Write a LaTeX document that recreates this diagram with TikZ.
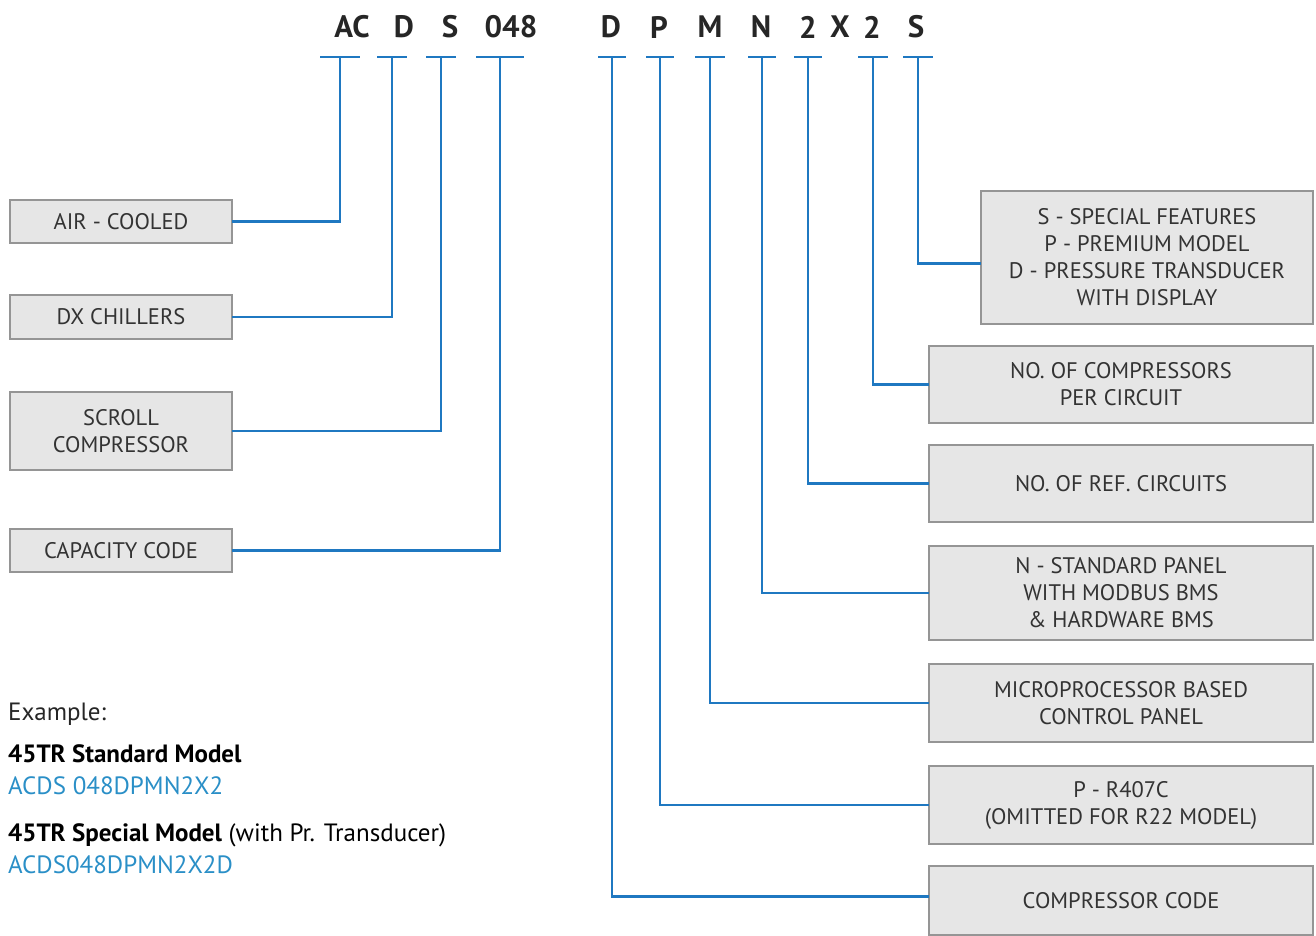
\documentclass[tikz,border=0pt]{standalone}
\usepackage{fontspec}
\setmainfont{PT Sans}
\definecolor{lineblue}{HTML}{1F78C1}
\definecolor{textblue}{HTML}{2A8FC7}
\definecolor{boxfill}{HTML}{E6E6E6}
\definecolor{boxdraw}{HTML}{959595}
\definecolor{boxtext}{HTML}{333333}
\tikzset{
  codebox/.style={draw=boxdraw, fill=boxfill, line width=2pt, inner sep=0pt, outer sep=0pt,
     align=center, text=boxtext, font=\fontsize{22.5}{27}\selectfont},
  conn/.style={draw=lineblue, line width=2.5pt},
  codelabel/.style={inner sep=0pt, text=black!85, font=\fontsize{31}{31}\selectfont\bfseries},
  extext/.style={inner sep=0pt, anchor=base west, font=\fontsize{25}{29}\selectfont}
}
\begin{document}
\begin{tikzpicture}[x=1pt,y=-1pt]
\useasboundingbox (0,0) rectangle (1316,935);

% code letters
\node[codelabel] (lAC) at (352,27) {AC};
\node[codelabel] (lD1) at (404,27) {D};
\node[codelabel] (lS1) at (450,27) {S};
\node[codelabel] (l048) at (511,27) {048};
\node[codelabel] (lD2) at (611,27) {D};
\node[codelabel] (lP) at (659,27) {P};
\node[codelabel] (lM) at (710,27) {M};
\node[codelabel] (lN) at (761,27) {N};
\node[codelabel] (l21) at (808,27) {2};
\node[codelabel] (lX) at (840,27) {X};
\node[codelabel] (l22) at (872,27) {2};
\node[codelabel] (lS2) at (916,27) {S};

% T-bar coordinates
\coordinate (tAC) at (340,57);
\coordinate (tD1) at (392,57);
\coordinate (tS1) at (441,57);
\coordinate (t048) at (500,57);
\coordinate (tD2) at (612,57);
\coordinate (tP) at (660,57);
\coordinate (tM) at (710,57);
\coordinate (tN) at (762,57);
\coordinate (t21) at (808,57);
\coordinate (t22) at (873,57);
\coordinate (tS2) at (918,57);

% left boxes
\node[codebox, minimum width=222pt, minimum height=43pt] (bAIR) at (121,221.5) {AIR - COOLED};
\node[codebox, minimum width=222pt, minimum height=44pt] (bDX) at (121,317) {DX CHILLERS};
\node[codebox, minimum width=222pt, minimum height=78pt] (bSCR) at (121,431) {SCROLL\\COMPRESSOR};
\node[codebox, minimum width=222pt, minimum height=43pt] (bCAP) at (121,550.5) {CAPACITY CODE};

% right boxes
\node[codebox, minimum width=332pt, minimum height=133pt] (bSPE) at (1147,257.5) {S - SPECIAL FEATURES\\P - PREMIUM MODEL\\D - PRESSURE TRANSDUCER\\WITH DISPLAY};
\node[codebox, minimum width=384pt, minimum height=77pt] (bNCOMP) at (1121,384.5) {NO. OF COMPRESSORS\\PER CIRCUIT};
\node[codebox, minimum width=384pt, minimum height=77pt] (bREF) at (1121,483.5) {NO. OF REF. CIRCUITS};
\node[codebox, minimum width=384pt, minimum height=94pt] (bPAN) at (1121,593) {N - STANDARD PANEL\\WITH MODBUS BMS\\\& HARDWARE BMS};
\node[codebox, minimum width=384pt, minimum height=78pt] (bMIC) at (1121,703) {MICROPROCESSOR BASED\\CONTROL PANEL};
\node[codebox, minimum width=384pt, minimum height=78pt] (bREFR) at (1121,805) {P - R407C\\(OMITTED FOR R22 MODEL)};
\node[codebox, minimum width=384pt, minimum height=69pt] (bCC) at (1121,900.5) {COMPRESSOR CODE};

% T bars
\foreach \c/\w in {tAC/20,tD1/15,tS1/15,t048/24,tD2/14,tP/14,tM/15,tN/14,t21/14,t22/15,tS2/15}{
  \draw[conn] ([xshift=-\w pt]\c) -- ([xshift=\w pt]\c);
}

% connectors
\draw[conn] (tAC) |- (bAIR.east);
\draw[conn] (tD1) |- (bDX.east);
\draw[conn] (tS1) |- (bSCR.east);
\draw[conn] (t048) |- (bCAP.east);
\draw[conn] (tS2) |- ([yshift=-6pt]bSPE.west);
\draw[conn] (t22) |- (bNCOMP.west);
\draw[conn] (t21) |- (bREF.west);
\draw[conn] (tN) |- (bPAN.west);
\draw[conn] (tM) |- (bMIC.west);
\draw[conn] (tP) |- (bREFR.west);
\draw[conn] (tD2) |- ([yshift=4pt]bCC.west);

% example
\node[extext, text=black!85] (ex) at (8,720) {Example:};
\node[extext, text=black] (std) at (8,762) {\bfseries 45TR Standard Model};
\node[extext, text=textblue] (stdc) at (8,794) {ACDS 048DPMN2X2};
\node[extext, text=black] (spe) at (8,841) {\bfseries 45TR Special Model\mdseries\ (with Pr. Transducer)};
\node[extext, text=textblue] (spec) at (8,873) {ACDS048DPMN2X2D};
\end{tikzpicture}
\end{document}
